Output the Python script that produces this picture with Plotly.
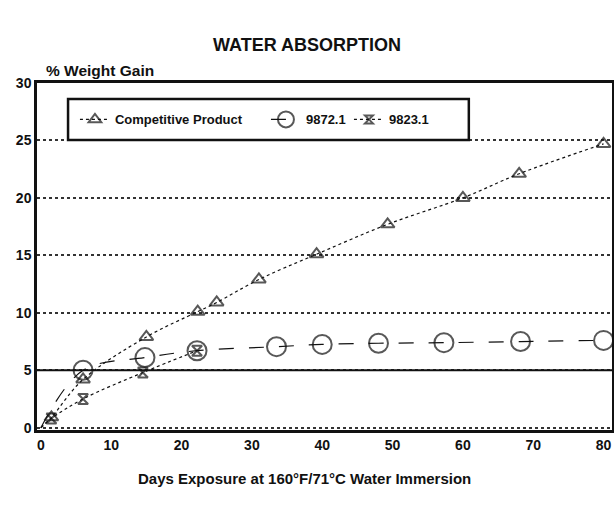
import plotly.graph_objects as go

# Data
comp_x = [0, 1.5, 6, 15, 22.3, 25, 31, 39.2, 49.3, 60, 68, 80]
comp_y = [0, 0.9, 4.2, 7.9, 10.1, 10.9, 12.9, 15.1, 17.7, 20.0, 22.1, 24.7]
s9872_x = [0, 6, 14.8, 22.2, 33.5, 40, 48, 57.3, 68.2, 80]
s9872_y = [0, 5.0, 6.1, 6.7, 7.05, 7.25, 7.35, 7.4, 7.5, 7.6]
s9823_x = [0, 1.5, 6, 14.5, 22.2]
s9823_y = [0, 0.8, 2.5, 4.8, 6.7]
names = ["Competitive Product", "9872.1", "9823.1"]
x_ticks = [0, 10, 20, 30, 40, 50, 60, 70, 80]
y_ticks = [0, 5, 10, 15, 20, 25, 30]

FONT = "Liberation Sans"

def sizes(n, s):
    return [0] + [s] * (n - 1)

fig = go.Figure()
fig.add_trace(go.Scatter(
    x=comp_x, y=comp_y, name=names[0], mode="lines+markers", legendwidth=146,
    line=dict(color="#111", width=1.2, dash="dot", shape="spline"),
    marker=dict(symbol="triangle-up-open", size=sizes(len(comp_x), 12),
                color="#111", line=dict(width=2, color="#111")),
))
fig.add_trace(go.Scatter(
    x=s9872_x, y=s9872_y, name=names[1], mode="lines+markers", legendwidth=38,
    line=dict(color="#111", width=1.2, dash="longdash", shape="spline"),
    marker=dict(symbol="circle-open", size=sizes(len(s9872_x), 19),
                color="#111", line=dict(width=2, color="#111")),
))
fig.add_trace(go.Scatter(
    x=s9823_x, y=s9823_y, name=names[2], mode="lines+markers",
    line=dict(color="#111", width=1.2, dash="dot", shape="spline"),
    marker=dict(symbol="hourglass-open", size=sizes(len(s9823_x), 10),
                color="#111", line=dict(width=2, color="#111")),
))

# solid reference line at 5
fig.add_hline(y=5, line=dict(color="#111", width=2))

# legend frame
fig.add_shape(type="rect", xref="paper", yref="paper",
              x0=0.054, x1=0.751, y0=0.836, y1=0.954,
              line=dict(color="#111", width=2.5), fillcolor="rgba(0,0,0,0)")

fig.update_layout(
    width=614, height=517,
    margin=dict(l=37, r=2, t=83, b=87),
    paper_bgcolor="white", plot_bgcolor="white",
    font=dict(family=FONT, color="#111"),
    title=dict(text="<b>WATER ABSORPTION</b>", x=0.5, xanchor="center",
               y=1 - 45 / 517, yanchor="middle",
               font=dict(size=18, family=FONT, color="#111")),
    showlegend=True,
    legend=dict(orientation="h", x=0.066, xanchor="left", y=0.895, yanchor="middle",
                bgcolor="rgba(0,0,0,0)", borderwidth=0,
                font=dict(size=13, family=FONT, color="#111", weight="bold"),
                itemwidth=30, tracegroupgap=0),
    xaxis=dict(range=[-0.55, 81.2], tickvals=x_ticks, ticktext=[str(v) for v in x_ticks],
               showgrid=False, zeroline=False, showline=True, linecolor="#111",
               linewidth=2.5, mirror=True, ticks="", automargin=False,
               tickfont=dict(size=14, family=FONT, color="#111", weight="bold")),
    yaxis=dict(range=[-0.2, 30], tickvals=y_ticks, ticktext=[str(v) for v in y_ticks],
               showgrid=True, gridcolor="#333", gridwidth=1.5, griddash="dot",
               zeroline=False, showline=True, linecolor="#111", linewidth=2.5,
               mirror=True, ticks="", automargin=False,
               tickfont=dict(size=14, family=FONT, color="#111", weight="bold")),
    annotations=[
        dict(text="<b>% Weight Gain</b>", xref="paper", yref="paper",
             x=0.012, y=1.0, xanchor="left", yanchor="bottom", yshift=2,
             showarrow=False, font=dict(size=15.5, family=FONT, color="#111")),
        dict(text="<b>Days Exposure at 160°F/71°C Water Immersion</b>",
             xref="paper", yref="paper", x=0.466, y=0, yshift=-48,
             xanchor="center", yanchor="middle",
             showarrow=False, font=dict(size=15, family=FONT, color="#111")),
    ],
)

fig.write_html("out.html", config={"displayModeBar": False},
               post_script="document.body.style.margin='0';")
